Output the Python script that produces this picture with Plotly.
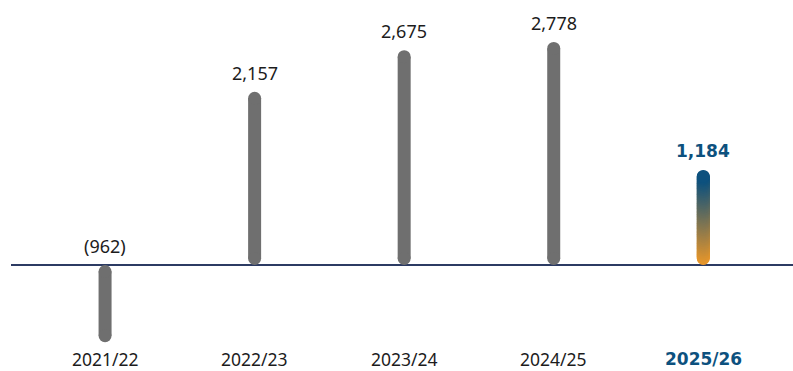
import plotly.graph_objects as go
import numpy as np

# Yearly values
years = ["2021/22", "2022/23", "2023/24", "2024/25", "2025/26"]
values = [-962, 2157, 2675, 2778, 1184]
labels = ["(962)", "2,157", "2,675", "2,778", "1,184"]

GRAY = "#6f6f6f"
BLUE = "#0d517e"
ORANGE = "#e9972a"
TEXT = "#1c1c1c"

W, H = 793, 371
Y_RANGE = [-1320, 3300]
X_RANGE = [-0.629, 4.60]
BAR_PX = 13

plot_h = H
px_per_unit = plot_h / (Y_RANGE[1] - Y_RANGE[0])
r_units = (BAR_PX / 2) / px_per_unit  # cap radius in data units

REG_FONT = dict(family="Noto Sans", size=18, color=TEXT)
BOLD_FONT = dict(family="DejaVu Sans", size=17, color=BLUE, weight="bold")
CAT_FONT = dict(family="Noto Sans", size=17.5, color=TEXT)
CAT_BOLD_FONT = dict(family="DejaVu Sans", size=17, color=BLUE, weight="bold")

fig = go.Figure()


def lerp_color(c1, c2, t):
    a = [int(c1[i:i + 2], 16) for i in (1, 3, 5)]
    b = [int(c2[i:i + 2], 16) for i in (1, 3, 5)]
    return "rgb(%d,%d,%d)" % tuple(round(a[k] + (b[k] - a[k]) * t) for k in range(3))


last = len(years) - 1
for i, v in enumerate(values):
    lo, hi = (0, v) if v >= 0 else (v, 0)
    y0, y1 = lo + r_units, hi - r_units
    if i < last:
        fig.add_trace(go.Scatter(
            x=[i, i], y=[y0, y1], mode="lines+markers",
            line=dict(color=GRAY, width=BAR_PX),
            marker=dict(color=GRAY, size=BAR_PX, line=dict(width=0)),
            hoverinfo="skip", showlegend=False,
        ))
    else:
        # gradient pill: dense stack of discs, orange at base to blue at top
        n = 120
        ys = np.linspace(y0, y1, n)
        cols = [lerp_color(ORANGE, BLUE, k / (n - 1)) for k in range(n)]
        fig.add_trace(go.Scatter(
            x=[i] * n, y=ys, mode="markers",
            marker=dict(color=cols, size=BAR_PX, line=dict(width=0)),
            hoverinfo="skip", showlegend=False,
        ))

# value labels
for i, (v, t) in enumerate(zip(values, labels)):
    fig.add_annotation(
        x=i, y=max(v, 0), text=t, showarrow=False, yanchor="middle", yshift=19,
        font=BOLD_FONT if i == last else REG_FONT,
    )

# category labels below the baseline
for i, yr in enumerate(years):
    fig.add_annotation(
        x=i, y=0, yref="paper", text=yr, showarrow=False, yanchor="middle",
        yshift=H - 359, borderpad=0,
        font=CAT_BOLD_FONT if i == last else CAT_FONT,
    )

fig.update_layout(
    width=W, height=H,
    margin=dict(l=11, r=0, t=0, b=0),
    paper_bgcolor="white", plot_bgcolor="white",
    xaxis=dict(range=X_RANGE, showgrid=False, zeroline=False, showticklabels=False,
               fixedrange=True),
    yaxis=dict(range=Y_RANGE, showgrid=False, zeroline=True, zerolinecolor="#2c3b63",
               zerolinewidth=1.5, showticklabels=False, fixedrange=True),
)

fig.write_html("out.html")
